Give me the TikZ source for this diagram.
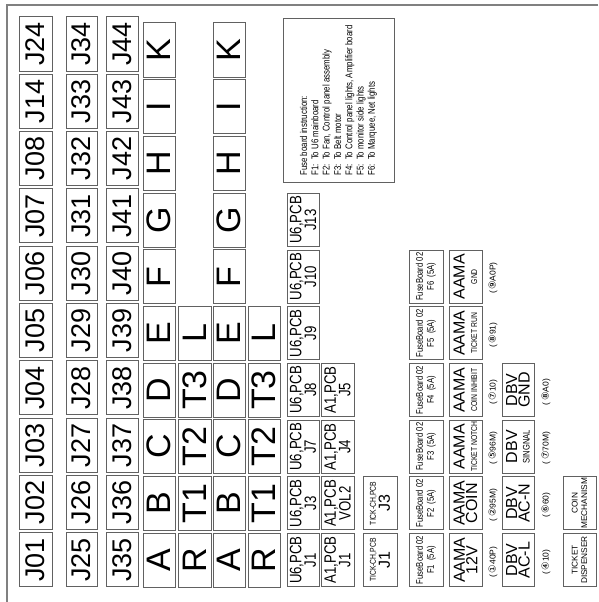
\documentclass[tikz,border=0pt]{standalone}
\usepackage{fontspec}
\setmainfont{Liberation Sans}
\newfontfamily\narf[FakeStretch=0.8]{Liberation Sans}
\newfontfamily\djf{DejaVu Sans}
\newcommand\cnum[1]{{\djf\fontsize{9.5}{9}\selectfont #1}}
\begin{document}
\begin{tikzpicture}[x=1pt,y=-1pt,
  bx/.style={draw=black!62, line width=1pt, rotate=90, inner sep=0pt, align=center, text=black},
  jb/.style={bx, minimum width=54pt, minimum height=32pt, font=\fontsize{27}{27}\selectfont},
  lb/.style={bx, minimum width=54pt, minimum height=32pt, font=\fontsize{34}{34}\selectfont},
  pb/.style={bx, minimum width=53pt, minimum height=32pt, font=\narf\fontsize{16.5}{13}\selectfont},
  tb/.style={bx, minimum width=53pt, minimum height=34pt, font=\fontsize{16}{13}\selectfont},
  fb/.style={bx, minimum width=53pt, minimum height=34pt, font=\narf\fontsize{9.6}{11}\selectfont},
  ab/.style={bx, minimum width=53pt, minimum height=33pt, font=\fontsize{16}{12.5}\selectfont},
  lbl/.style={rotate=90, inner sep=0pt, font=\fontsize{8.5}{9}\selectfont},
  kb/.style={bx, minimum width=53pt, minimum height=33pt, font=\fontsize{8.3}{9.5}\selectfont},
  ib/.style={bx, minimum width=163pt, minimum height=111pt, align=left, font=\narf\fontsize{9.8}{11.3}\selectfont}
]
\useasboundingbox (0,0) rectangle (598,602);
% frame
\draw[black!50, line width=1.6pt] (598,5) -- (7,5) -- (7,602);

% J columns
\foreach \t [count=\i from 0] in {J24,J14,J08,J07,J06,J05,J04,J03,J02,J01}
  \node[jb, minimum height=33pt] (ja\i) at (35.5,{44+57.33*\i}) {\t};
\foreach \t [count=\i from 0] in {J34,J33,J32,J31,J30,J29,J28,J27,J26,J25}
  \node[jb, minimum height=31pt] (jb\i) at (81.5,{44+57.33*\i}) {\t};
\foreach \t [count=\i from 0] in {J44,J43,J42,J41,J40,J39,J38,J37,J36,J35}
  \node[jb] (jc\i) at (122,{44+57.33*\i}) {\t};

% letter columns
\foreach \t [count=\i from 0] in {K,I,H,G,F,E,D,C,B,A}
  \node[lb] (la\i) at (159,{50+56.67*\i}) {\t};
\foreach \t [count=\i from 5] in {L,T3,T2,T1,R}
  \node[lb, minimum height=33pt] (lb\i) at (194.5,{50+56.67*\i}) {\t};
\foreach \t [count=\i from 0] in {K,I,H,G,F,E,D,C,B,A}
  \node[lb] (lc\i) at (229,{50+56.67*\i}) {\t};
\foreach \t [count=\i from 5] in {L,T3,T2,T1,R}
  \node[lb] (ld\i) at (264,{50+56.67*\i}) {\t};

% U6,PCB column
\foreach \t [count=\i from 3] in {J13,J10,J9,J8,J7,J3,J1}
  \node[pb] (u6\i) at (303,{50+56.67*\i}) {U6,PCB\\\t};
% A1,PCB column
\foreach \t [count=\i from 6] in {J5,J4,VOL2,J1}
  \node[pb, minimum height=33pt] (a1\i) at (337.5,{50+56.67*\i}) {A1,PCB\\\t};
% TICK-CH,PCB column
\foreach \t [count=\i from 8] in {J3,J1}
  \node[tb] (tk\i) at (380,{50+56.67*\i}) {{\narf\fontsize{8.5}{9}\selectfont TICK-CH,PCB}\\[1pt]\t};
% FuseBoard column
\foreach \t [count=\i from 4] in {6,5,4,3,2,1}
  \node[fb] (fb\i) at (426,{50+56.67*\i}) {FuseBoard 02\\F\t\ \ (5A)};

% AAMA column
\node[ab] (aa4) at (465.5,276.7) {AAMA\\{\narf\fontsize{8.5}{9}\selectfont GND}};
\node[ab] (aa5) at (465.5,333.3) {AAMA\\{\narf\fontsize{8.5}{9}\selectfont TICKET RUN}};
\node[ab] (aa6) at (465.5,390) {AAMA\\{\narf\fontsize{8.5}{9}\selectfont COIN INHIBIT}};
\node[ab] (aa7) at (465.5,446.7) {AAMA\\{\narf\fontsize{8.5}{9}\selectfont TICKET NOTCH}};
\node[ab] (aa8) at (465.5,503.3) {AAMA\\COIN};
\node[ab] (aa9) at (465.5,560) {AAMA\\12V};

% AAMA labels
\node[lbl] (al4) at (493,278) {(\,\cnum{⑨}A0P)};
\node[lbl] (al5) at (493,335) {(\,\cnum{⑧}91)};
\node[lbl] (al6) at (493,392) {(\,\cnum{⑦}10)};
\node[lbl] (al7) at (493,448) {(\,\cnum{⑤}96M)};
\node[lbl] (al8) at (493,505) {(\,\cnum{②}95M)};
\node[lbl] (al9) at (493,562) {(\,\cnum{①}40P)};

% DBV column
\node[ab, minimum height=32pt] (db6) at (518,390) {DBV\\GND};
\node[ab, minimum height=32pt] (db7) at (518,446.7) {DBV\\{\narf\fontsize{9.5}{9}\selectfont SINGNAL}};
\node[ab, minimum height=32pt] (db8) at (518,503.3) {DBV\\AC-N};
\node[ab, minimum height=32pt] (db9) at (518,560) {DBV\\AC-L};

% DBV labels
\node[lbl] (dl6) at (546,392) {(\,\cnum{⑧}A0)};
\node[lbl] (dl7) at (546,448) {(\,\cnum{⑦}70M)};
\node[lbl] (dl8) at (546,505) {(\,\cnum{⑥}60)};
\node[lbl] (dl9) at (546,562) {(\,\cnum{④}10)};

% coin / ticket
\node[kb] (cm8) at (579.5,503.3) {COIN\\MECHANISM};
\node[kb] (td9) at (579.5,560) {TICKET\\DISPENSER};

% fuse board instruction
\node[ib] (fi) at (338.5,100.5) {Fuse board instruction:\\
F1:~~To U6 mainboard\\
F2:~~To Fan, Control panel assembly\\
F3:~~To Belt motor\\
F4:~~To Control panel lights, Amplifier board\\
F5:~~To monitor side lights\\
F6:~~To Marquee, Net lights};
\end{tikzpicture}
\end{document}
